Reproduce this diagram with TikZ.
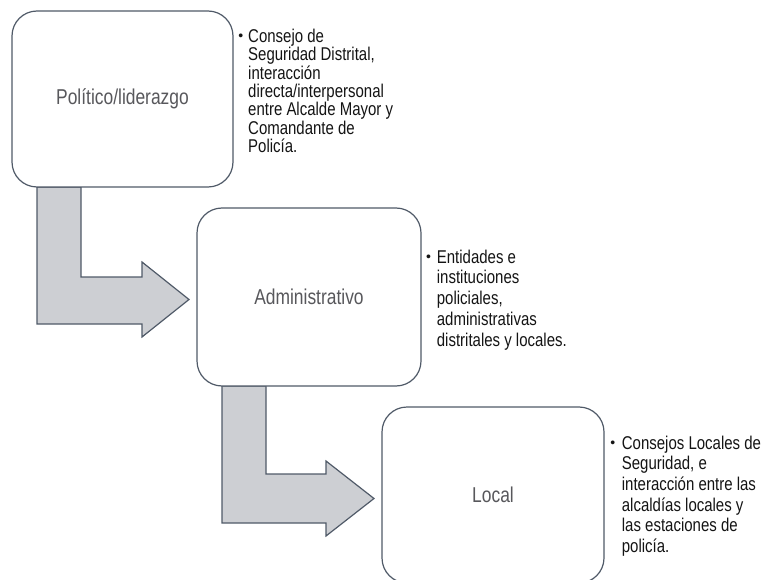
\documentclass[tikz,border=0pt]{standalone}
\usepackage{fontspec}
\setmainfont{Liberation Sans}
\newfontfamily\narrowfont{Liberation Sans}[FakeStretch=0.81]
\definecolor{edgecol}{RGB}{80,90,104}
\definecolor{arrowfill}{RGB}{205,207,211}
\definecolor{labelcol}{RGB}{88,88,92}
\definecolor{notecol}{RGB}{20,20,20}
\tikzset{
  box/.style={draw=edgecol, line width=1.2pt, fill=white, rounded corners=25pt,
    inner sep=0pt, text=labelcol, font=\narrowfont\fontsize{21.5pt}{24pt}\selectfont},
  blockarrow/.style={draw=edgecol, line width=1.2pt, fill=arrowfill, line join=miter},
  note/.style={anchor=base west, align=left, inner sep=0pt, text=notecol},
  bul/.style={anchor=center, inner sep=0pt, text=notecol, font=\fontsize{14pt}{16pt}\selectfont}
}
\begin{document}
\begin{tikzpicture}[x=1pt,y=-1pt]
\useasboundingbox (0,0) rectangle (763,580);
% arrows (drawn first, boxes cover their top ends)
\draw[blockarrow] (37,187) -- (37,324) -- (142,324) -- (142,337) -- (189,299.5)
  -- (142,262) -- (142,277) -- (81,277) -- (81,187) -- cycle;
\draw[blockarrow] (222,386) -- (222,523) -- (326,523) -- (326,536) -- (374,498.5)
  -- (326,461) -- (326,474) -- (266,474) -- (266,386) -- cycle;
% boxes
\node[box, minimum width=221pt, minimum height=176pt] (b1) at (122.5,99) {Político/liderazgo};
\node[box, minimum width=224pt, minimum height=178pt] (b2) at (309,297) {Administrativo};
\node[box, minimum width=222pt, minimum height=176pt] (b3) at (493,495) {Local};
% notes (anchored at the baseline of their last line)
\node[bul] (d1) at (240.7,37.5) {•};
\node[note, font=\narrowfont\fontsize{18.5pt}{18.3pt}\selectfont] (t1) at (248,152.5)
  {Consejo de\\Seguridad Distrital,\\interacción\\directa/interpersonal\\entre Alcalde Mayor y\\Comandante de\\Policía.};
\node[bul] (d2) at (428.5,257.8) {•};
\node[note, font=\narrowfont\fontsize{18.5pt}{20.8pt}\selectfont] (t2) at (436.7,346.2)
  {Entidades e\\instituciones\\policiales,\\administrativas\\distritales y locales.};
\node[bul] (d3) at (612.7,443.8) {•};
\node[note, font=\narrowfont\fontsize{18.5pt}{20.7pt}\selectfont] (t3) at (621.7,552.5)
  {Consejos Locales de\\Seguridad, e\\interacción entre las\\alcaldías locales y\\las estaciones de\\policía.};
\end{tikzpicture}
\end{document}
